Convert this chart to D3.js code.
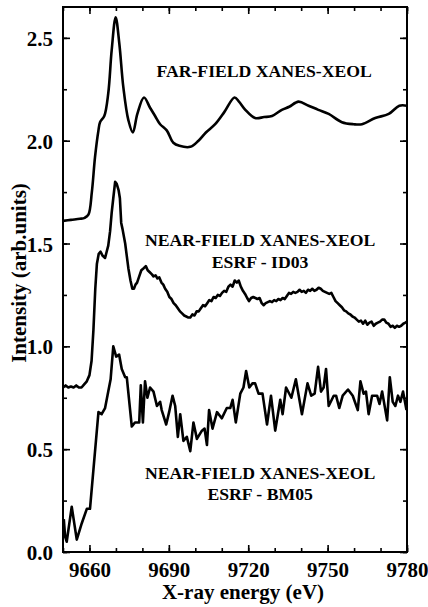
<!DOCTYPE html>
<html><head><meta charset="utf-8">
<script src="https://cdn.jsdelivr.net/npm/d3@7"></script>
<style>html,body{margin:0;padding:0;background:#fff;}svg{display:block;}</style>
</head><body>
<svg id="c" width="428" height="607"></svg>
<script>
// X-ray energy (eV), intensity (arb. units)
const farFieldE = [9650,9653,9656.4,9658.2,9659.6,9660.9,9662.1,9663.4,9664.0,9665.6,9667.1,9668.4,9669.9,9671.3,9672.8,9674.7,9676.4,9678.1,9680.6,9682.9,9684.8,9686.7,9689.2,9691.7,9694,9698.1,9701.2,9704,9707.5,9711,9714.8,9716.5,9718.9,9722.6,9726,9729.0,9732.7,9735.5,9739.0,9742.8,9746.5,9750.4,9755.4,9759.8,9763.0,9768.0,9773.1,9777.1,9780];
const farFieldV = [1.61,1.615,1.62,1.625,1.64,1.75,1.92,2.05,2.09,2.12,2.23,2.44,2.60,2.47,2.26,2.10,2.04,2.13,2.21,2.16,2.12,2.08,2.05,1.99,1.975,1.97,2.00,2.04,2.08,2.14,2.21,2.19,2.15,2.11,2.115,2.12,2.15,2.165,2.19,2.17,2.15,2.13,2.09,2.08,2.08,2.11,2.13,2.17,2.17];

const id03E = [9650.0,9651.0,9652.0,9653.0,9654.0,9655.0,9656.0,9657.0,9658.0,9659.0,9660.0,9660.8,9661.5,9662.2,9662.8,9663.5,9664.2,9665.0,9665.9,9666.5,9667.1,9667.8,9668.4,9669.0,9669.7,9670.3,9671.0,9671.5,9672.0,9672.5,9673.5,9674.1,9674.7,9675.5,9676.2,9676.8,9677.4,9678.0,9678.8,9679.6,9680.5,9681.3,9682.0,9682.8,9683.6,9684.2,9685.0,9685.7,9686.4,9687.2,9687.9,9688.6,9689.4,9690.2,9691.0,9691.8,9692.6,9693.4,9694.2,9695.0,9695.8,9696.6,9697.4,9698.1,9698.9,9699.7,9700.5,9701.3,9702.1,9702.9,9703.7,9704.5,9705.3,9706.1,9706.9,9707.7,9708.5,9709.3,9710.1,9710.9,9711.7,9712.5,9713.3,9714.1,9714.9,9715.7,9716.4,9717.2,9718.0,9718.8,9719.6,9720.3,9721.1,9721.9,9722.7,9723.5,9724.3,9725.1,9725.8,9726.6,9727.4,9728.2,9729.0,9729.8,9730.6,9731.4,9732.2,9733.0,9733.8,9734.6,9735.4,9736.2,9737.0,9737.8,9738.6,9739.4,9740.2,9741.0,9741.8,9742.6,9743.4,9744.2,9745.0,9745.8,9746.6,9747.4,9748.2,9749.0,9749.8,9750.6,9751.4,9752.2,9753.0,9753.8,9754.6,9755.4,9756.2,9757.0,9757.8,9758.6,9759.4,9760.2,9761.0,9761.8,9762.6,9763.4,9764.2,9765.0,9765.8,9766.6,9767.4,9768.2,9769.0,9769.8,9770.6,9771.4,9772.2,9773.0,9773.8,9774.6,9775.4,9776.2,9777.0,9777.8,9778.6,9779.4,9780.0];
const id03V = [0.80,0.81,0.80,0.805,0.80,0.81,0.80,0.80,0.815,0.83,0.86,0.93,1.08,1.28,1.40,1.45,1.46,1.44,1.43,1.46,1.49,1.56,1.65,1.72,1.80,1.79,1.76,1.72,1.60,1.57,1.50,1.44,1.38,1.32,1.28,1.28,1.30,1.31,1.34,1.37,1.38,1.39,1.37,1.36,1.35,1.34,1.345,1.33,1.335,1.31,1.30,1.28,1.265,1.24,1.23,1.21,1.20,1.185,1.17,1.16,1.15,1.145,1.14,1.14,1.155,1.15,1.17,1.17,1.185,1.20,1.195,1.21,1.225,1.22,1.24,1.235,1.25,1.245,1.26,1.27,1.265,1.29,1.30,1.29,1.32,1.31,1.32,1.29,1.27,1.255,1.235,1.22,1.235,1.24,1.235,1.23,1.235,1.21,1.20,1.21,1.215,1.22,1.215,1.225,1.22,1.23,1.225,1.235,1.23,1.245,1.26,1.255,1.265,1.26,1.265,1.275,1.265,1.27,1.26,1.275,1.27,1.28,1.27,1.275,1.285,1.28,1.27,1.265,1.26,1.255,1.26,1.24,1.22,1.21,1.20,1.19,1.175,1.17,1.16,1.155,1.145,1.14,1.13,1.12,1.125,1.11,1.125,1.105,1.115,1.12,1.10,1.11,1.115,1.12,1.13,1.13,1.115,1.11,1.095,1.10,1.09,1.10,1.095,1.10,1.11,1.115,1.12];

const bm05E = [9650.3,9650.8,9651.4,9653.3,9655.2,9657.1,9659.0,9660.2,9661.5,9663.4,9664.6,9665.9,9667.1,9668.0,9669.0,9670.1,9671.2,9672.2,9673.5,9674.1,9676.0,9677.2,9678.8,9679.4,9680.2,9681.0,9681.9,9682.9,9684.2,9685.5,9686.7,9687.3,9689.0,9690.1,9691.4,9692.4,9693.4,9694.3,9695.5,9696.8,9698.1,9699.3,9700.6,9702.5,9703.5,9704.4,9705.2,9706.5,9708.2,9710.0,9711.9,9713.2,9714.1,9715.3,9717.0,9718.2,9719.2,9720.4,9721.6,9722.6,9723.9,9725.4,9727.1,9728.6,9730.2,9732.1,9733.0,9734.3,9736.3,9738.0,9740.3,9742.4,9743.8,9745.1,9746.4,9747.5,9748.5,9749.4,9750.4,9752.3,9753.2,9754.4,9755.7,9757.7,9759.5,9761.4,9762.4,9763.6,9764.5,9765.5,9766.8,9768.7,9769.6,9770.6,9772.5,9773.5,9774.6,9775.6,9776.6,9777.5,9778.5,9779.8];
const bm05V = [0.16,0.075,0.05,0.22,0.06,0.14,0.21,0.21,0.40,0.68,0.67,0.70,0.78,0.84,1.00,0.95,0.96,0.89,0.85,0.85,0.61,0.63,0.63,0.81,0.63,0.83,0.75,0.80,0.78,0.71,0.73,0.69,0.62,0.68,0.76,0.71,0.56,0.67,0.54,0.56,0.49,0.63,0.55,0.59,0.60,0.52,0.69,0.60,0.68,0.65,0.70,0.70,0.74,0.63,0.77,0.80,0.88,0.80,0.82,0.82,0.77,0.77,0.62,0.76,0.59,0.74,0.67,0.80,0.75,0.84,0.67,0.82,0.76,0.77,0.90,0.78,0.80,0.89,0.71,0.76,0.76,0.70,0.76,0.79,0.76,0.69,0.83,0.77,0.78,0.67,0.76,0.76,0.72,0.78,0.64,0.85,0.73,0.71,0.76,0.73,0.78,0.69];

const xTicks = [9660,9690,9720,9750,9780];
const xMinor = [9650,9660,9670,9680,9690,9700,9710,9720,9730,9740,9750,9760,9770,9780];
const yTicks = [0.0,0.5,1.0,1.5,2.0,2.5];
const yMinor = [0,0.25,0.5,0.75,1.0,1.25,1.5,1.75,2.0,2.25,2.5];
const labels = [
  {lines:["FAR-FIELD XANES-XEOL"], x:9726, y:[2.31]},
  {lines:["NEAR-FIELD XANES-XEOL","ESRF - ID03"], x:9724.5, y:[1.488,1.381]},
  {lines:["NEAR-FIELD XANES-XEOL","ESRF - BM05"], x:9724.5, y:[0.355,0.253]}
];

const svg = d3.select("#c");
const m = {l:63, r:407, t:7, b:552};
const x = d3.scaleLinear().domain([9650,9780]).range([m.l, m.r]);
const y = d3.scaleLinear().domain([0,2.65]).range([m.b, m.t]);
const font = "'Liberation Serif','Times New Roman',serif";

const g = svg.append("g");
// ticks inward
function minorTicks(axisGen, vals, tr, len){
  const a = g.append("g").attr("transform", tr).call(axisGen.tickValues(vals).tickSize(len).tickFormat(""));
  a.select(".domain").remove();
  a.selectAll("line").attr("stroke","#000").attr("stroke-width",1.6);
}
minorTicks(d3.axisTop(x), xMinor, `translate(0,${m.b})`, 4);
minorTicks(d3.axisTop(x), xTicks, `translate(0,${m.b})`, 7);
minorTicks(d3.axisBottom(x), xMinor, `translate(0,${m.t})`, 4);
minorTicks(d3.axisBottom(x), xTicks, `translate(0,${m.t})`, 7);
minorTicks(d3.axisRight(y), yMinor, `translate(${m.l},0)`, 4);
minorTicks(d3.axisRight(y), yTicks, `translate(${m.l},0)`, 7);
minorTicks(d3.axisLeft(y), yMinor, `translate(${m.r},0)`, 4);
minorTicks(d3.axisLeft(y), yTicks, `translate(${m.r},0)`, 7);

// tick labels
const xl = g.append("g").attr("transform",`translate(0,${m.b})`)
  .call(d3.axisBottom(x).tickValues(xTicks).tickSize(0).tickPadding(0).tickFormat(d3.format("d")));
xl.select(".domain").remove();
xl.selectAll("text").attr("dy",null).attr("y",25).attr("font-family",font).attr("font-weight","bold").attr("font-size","21px").attr("fill","#000");
const yl = g.append("g").attr("transform",`translate(${m.l},0)`)
  .call(d3.axisLeft(y).tickValues(yTicks).tickSize(0).tickPadding(10).tickFormat(d3.format(".1f")));
yl.select(".domain").remove();
yl.selectAll("text").attr("dy","0.36em").attr("font-family",font).attr("font-weight","bold").attr("font-size","21px").attr("fill","#000");

// frame
g.append("rect").attr("x",m.l).attr("y",m.t).attr("width",m.r-m.l).attr("height",m.b-m.t)
  .attr("fill","none").attr("stroke","#000").attr("stroke-width",2);

// curves
const clip = svg.append("clipPath").attr("id","pc").append("rect")
  .attr("x",m.l).attr("y",m.t).attr("width",m.r-m.l).attr("height",m.b-m.t);
function draw(E,V,curve){
  const pts = E.map((e,i)=>[e,V[i]]);
  g.append("path").datum(pts).attr("clip-path","url(#pc)")
    .attr("d", d3.line().x(d=>x(d[0])).y(d=>y(d[1])).curve(curve))
    .attr("fill","none").attr("stroke","#000").attr("stroke-width",2.6).attr("stroke-linejoin","round");
}
draw(farFieldE, farFieldV, d3.curveCatmullRom.alpha(0.5));
draw(id03E, id03V, d3.curveLinear);
draw(bm05E, bm05V, d3.curveLinear);

// labels
labels.forEach(L=>{
  L.lines.forEach((t,i)=>{
    g.append("text").attr("x",x(L.x)).attr("y",y(L.y[i])).attr("text-anchor","middle")
      .attr("font-family",font).attr("font-weight","bold").attr("font-size","17.7px").attr("fill","#000").text(t);
  });
});

// axis titles
svg.append("text").attr("x",243).attr("y",599).attr("text-anchor","middle")
  .attr("font-family",font).attr("font-weight","bold").attr("font-size","21px").text("X-ray energy (eV)");
svg.append("text").attr("transform","translate(26,273) rotate(-90)").attr("text-anchor","middle")
  .attr("font-family",font).attr("font-weight","bold").attr("font-size","21px").text("Intensity (arb.units)");
</script>
</body></html>
